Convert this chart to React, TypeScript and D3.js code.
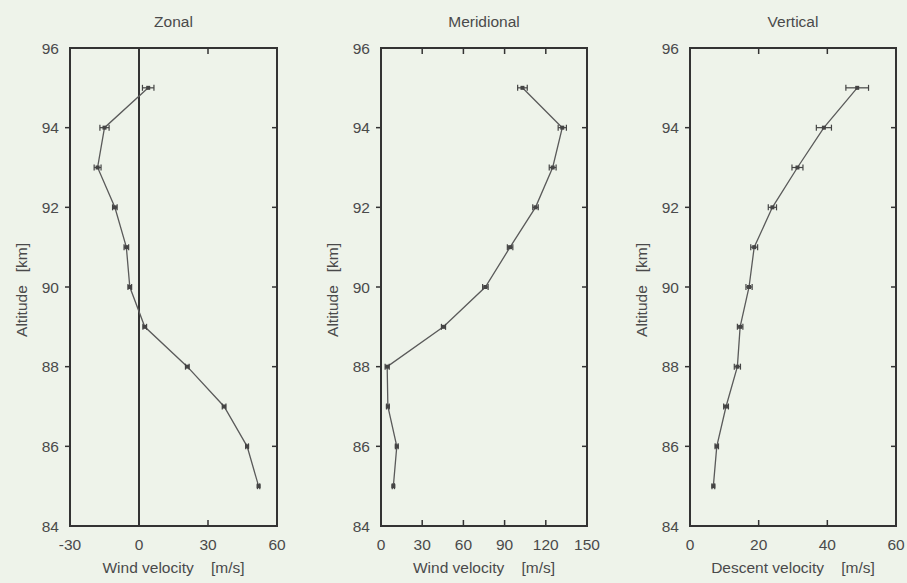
import React, { useEffect, useRef } from "react";
import * as d3 from "d3";

// altitude levels (km), shared by all three profiles
const altitudes = [95, 94, 93, 92, 91, 90, 89, 88, 87, 86, 85];

// zonal wind (m/s) and error
const zonal = [4, -15, -18, -10.5, -5.5, -4, 2.5, 21, 37, 47, 52];
const zonalErr = [2.5, 2, 1.5, 1, 1, 0.8, 0.8, 0.8, 0.8, 0.6, 0.5];

// meridional wind (m/s) and error
const meridional = [103, 132, 125, 112.5, 94, 76, 45.5, 4.5, 5, 11.5, 9];
const meridionalErr = [3.5, 3, 2.5, 2, 2, 2, 1.5, 1.5, 1, 1, 0.8];

// descent velocity (m/s) and error
const vertical = [48.7, 39, 31.3, 24, 18.7, 17.2, 14.6, 13.8, 10.5, 7.8, 6.8];
const verticalErr = [3.3, 2.2, 1.6, 1.2, 1, 0.9, 0.8, 0.9, 0.7, 0.5, 0.4];

const altTicks = [84, 86, 88, 90, 92, 94, 96];
const zonalTicks = [-30, 0, 30, 60];
const meridionalTicks = [0, 30, 60, 90, 120, 150];
const verticalTicks = [0, 20, 40, 60];

const panels = [
  { title: "Zonal", xLabel: "Wind velocity    [m/s]", values: zonal, errs: zonalErr, ticks: zonalTicks, left: 70, right: 277, zeroLine: true },
  { title: "Meridional", xLabel: "Wind velocity    [m/s]", values: meridional, errs: meridionalErr, ticks: meridionalTicks, left: 381, right: 587, zeroLine: false },
  { title: "Vertical", xLabel: "Descent velocity    [m/s]", values: vertical, errs: verticalErr, ticks: verticalTicks, left: 690, right: 896, zeroLine: false },
];

const W = 907;
const H = 583;
const TOP = 48;
const BOTTOM = 526;
const FONT = "Liberation Sans, Arial, sans-serif";
const FS = 15.5;
const INK = "#4a4a4a";

const App = () => {
  const svgRef = useRef(null);

  useEffect(() => {
    const svg = d3.select(svgRef.current);
    svg.selectAll("*").remove();

    svg.append("rect").attr("width", W).attr("height", H).attr("fill", "#eef3ea");

    const y = d3.scaleLinear().domain([84, 96]).range([BOTTOM, TOP]);

    panels.forEach((p) => {
      const ticks = p.ticks;
      const x = d3
        .scaleLinear()
        .domain([ticks[0], ticks[ticks.length - 1]])
        .range([p.left, p.right]);
      const g = svg.append("g");
      const cx = (p.left + p.right) / 2;

      // title
      g.append("text")
        .attr("x", cx)
        .attr("y", 27)
        .attr("text-anchor", "middle")
        .attr("font-family", FONT)
        .attr("font-size", FS)
        .attr("fill", INK)
        .text(p.title);

      // y ticks + labels
      altTicks.forEach((t) => {
        const yy = y(t);
        g.append("text")
          .attr("x", p.left - 11)
          .attr("y", yy + 5.5)
          .attr("text-anchor", "end")
          .attr("font-family", FONT)
          .attr("font-size", FS)
          .attr("fill", INK)
          .text(t);
        if (t > 84 && t < 96) {
          g.append("line")
            .attr("x1", p.left - 5).attr("x2", p.left)
            .attr("y1", yy).attr("y2", yy)
            .attr("stroke", "#333").attr("stroke-width", 1.5);
          g.append("line")
            .attr("x1", p.right - 5).attr("x2", p.right)
            .attr("y1", yy).attr("y2", yy)
            .attr("stroke", "#333").attr("stroke-width", 1.5);
        }
      });

      // x ticks + labels
      ticks.forEach((t, i) => {
        const xx = x(t);
        g.append("text")
          .attr("x", xx)
          .attr("y", 550)
          .attr("text-anchor", "middle")
          .attr("font-family", FONT)
          .attr("font-size", FS)
          .attr("fill", INK)
          .text(t);
        if (i > 0 && i < ticks.length - 1) {
          g.append("line")
            .attr("x1", xx).attr("x2", xx)
            .attr("y1", TOP).attr("y2", TOP + 6)
            .attr("stroke", "#333").attr("stroke-width", 1.5);
          g.append("line")
            .attr("x1", xx).attr("x2", xx)
            .attr("y1", BOTTOM - 6).attr("y2", BOTTOM)
            .attr("stroke", "#333").attr("stroke-width", 1.5);
        }
      });

      // axis labels
      g.append("text")
        .attr("x", cx)
        .attr("y", 573)
        .attr("text-anchor", "middle")
        .attr("font-family", FONT)
        .attr("font-size", FS)
        .attr("fill", INK)
        .style("white-space", "pre")
        .text(p.xLabel);
      g.append("text")
        .attr("transform", `translate(${p.left - 43},${(TOP + BOTTOM) / 2 + 3}) rotate(-90)`)
        .attr("text-anchor", "middle")
        .attr("font-family", FONT)
        .attr("font-size", FS)
        .attr("fill", INK)
        .style("white-space", "pre")
        .text("Altitude   [km]");

      // frame
      g.append("rect")
        .attr("x", p.left).attr("y", TOP)
        .attr("width", p.right - p.left).attr("height", BOTTOM - TOP)
        .attr("fill", "none").attr("stroke", "#333").attr("stroke-width", 2);

      if (p.zeroLine) {
        g.append("line")
          .attr("x1", x(0)).attr("x2", x(0))
          .attr("y1", TOP).attr("y2", BOTTOM)
          .attr("stroke", "#333").attr("stroke-width", 2);
      }

      const pts = altitudes.map((a, i) => ({ a, v: p.values[i], e: p.errs[i] }));

      // profile line
      const line = d3
        .line()
        .x((d) => x(d.v))
        .y((d) => y(d.a));
      g.append("path")
        .datum(pts)
        .attr("fill", "none")
        .attr("stroke", "#5a5a5a")
        .attr("stroke-width", 1.3)
        .attr("d", line);

      // error bars
      pts.forEach((d) => {
        const yy = y(d.a);
        const x0 = x(d.v - d.e);
        const x1 = x(d.v + d.e);
        g.append("line")
          .attr("x1", x0).attr("x2", x1).attr("y1", yy).attr("y2", yy)
          .attr("stroke", "#444").attr("stroke-width", 1.2);
        [x0, x1].forEach((xe) => {
          g.append("line")
            .attr("x1", xe).attr("x2", xe).attr("y1", yy - 3).attr("y2", yy + 3)
            .attr("stroke", "#444").attr("stroke-width", 1.2);
        });
        g.append("rect")
          .attr("x", x(d.v) - 2).attr("y", yy - 2)
          .attr("width", 4).attr("height", 4)
          .attr("fill", "#444");
      });
    });
  }, []);

  return (
    <div style={{ position: "absolute", left: 0, top: 0 }}>
      <svg ref={svgRef} width={W} height={H} style={{ display: "block" }}></svg>
    </div>
  );
};

export default App;
